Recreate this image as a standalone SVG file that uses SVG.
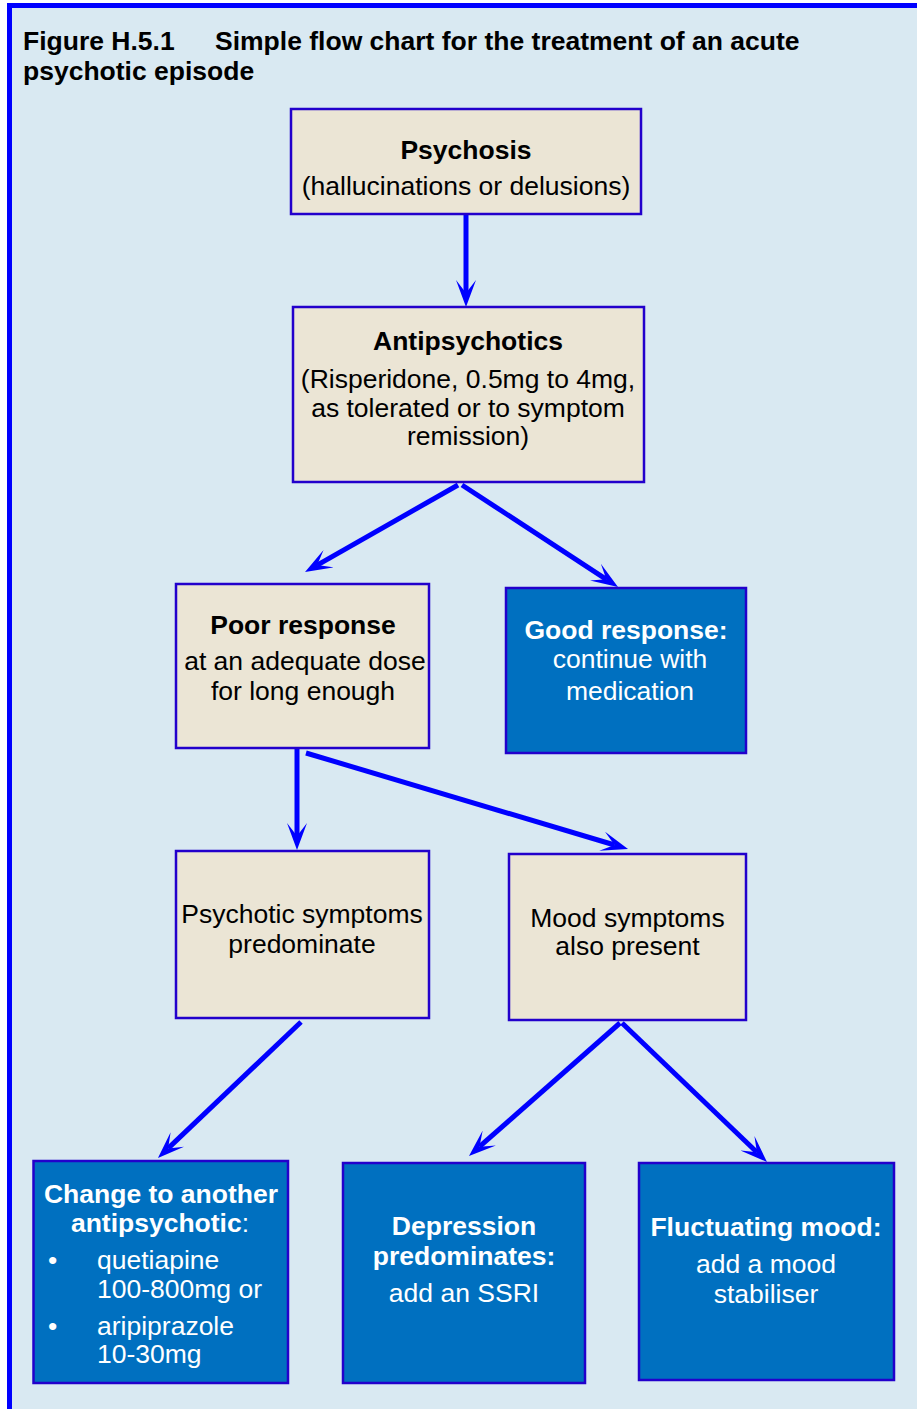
<svg xmlns="http://www.w3.org/2000/svg" width="917" height="1409" viewBox="0 0 917 1409">
<defs>
<marker id="ah" viewBox="0 0 28 20" refX="13" refY="10" markerWidth="28" markerHeight="20" markerUnits="userSpaceOnUse" orient="auto">
<path d="M27,10 L0,0 L13,10 L0,20 Z" fill="#0000ff"/>
</marker>
<style>
text{font-family:"Liberation Sans",Arial,sans-serif;font-size:26.5px}
.t{font-weight:bold;fill:#000}
.c{text-anchor:middle}
.b{font-weight:bold}
.k{fill:#000}
.w{fill:#fff}
.beige{fill:#ebe5d5;stroke:#2200cc;stroke-width:2.5}
.dark{fill:#0070c0;stroke:#2200cc;stroke-width:2.5}
.con line{stroke:#0000ff;stroke-width:5;marker-end:url(#ah)}
</style>
</defs>
<rect x="0" y="0" width="917" height="1409" fill="#ffffff"/>
<rect id="frame" x="9.5" y="5.5" width="1000" height="1500" fill="#d9e9f2" stroke="#0000ff" stroke-width="5"/>
<g id="title">
<text class="t" x="23" y="49.5">Figure H.5.1</text>
<text class="t" x="215" y="49.5">Simple flow chart for the treatment of an acute</text>
<text class="t" x="23" y="80">psychotic episode</text>
</g>
<g id="connectors" class="con">
<line x1="466" y1="214" x2="466" y2="293"/>
<line x1="458" y1="485" x2="317.2" y2="565.1"/>
<line x1="462" y1="485" x2="606.3" y2="579.3"/>
<line x1="297" y1="748" x2="297" y2="836"/>
<line x1="306" y1="753" x2="614.6" y2="845"/>
<line x1="301" y1="1022" x2="168.1" y2="1148.4"/>
<line x1="620" y1="1023" x2="479.5" y2="1146.7"/>
<line x1="622" y1="1023" x2="756.9" y2="1152.3"/>
</g>
<g id="psychosis">
<rect class="beige" x="291" y="109" width="350" height="105"/>
<text class="c k b" x="466" y="159">Psychosis</text>
<text class="c k" x="466" y="195">(hallucinations or delusions)</text>
</g>
<g id="antipsychotics">
<rect class="beige" x="293" y="307" width="351" height="175"/>
<text class="c k b" x="468" y="350">Antipsychotics</text>
<text class="c k" x="468" y="388">(Risperidone, 0.5mg to 4mg,</text>
<text class="c k" x="468" y="416.5">as tolerated or to symptom</text>
<text class="c k" x="468" y="445">remission)</text>
</g>
<g id="poor">
<rect class="beige" x="176" y="584" width="253" height="164"/>
<text class="c k b" x="303" y="634">Poor response</text>
<text class="c k" x="305" y="670">at an adequate dose</text>
<text class="c k" x="303" y="700">for long enough</text>
</g>
<g id="good">
<rect class="dark" x="506" y="588" width="240" height="165"/>
<text class="c w b" x="626" y="639">Good response:</text>
<text class="c w" x="630" y="668">continue with</text>
<text class="c w" x="630" y="700">medication</text>
</g>
<g id="psychotic">
<rect class="beige" x="176" y="851" width="253" height="167"/>
<text class="c k" x="302" y="923">Psychotic symptoms</text>
<text class="c k" x="302" y="953">predominate</text>
</g>
<g id="mood">
<rect class="beige" x="509" y="854" width="237" height="166"/>
<text class="c k" x="627.5" y="927">Mood symptoms</text>
<text class="c k" x="627.5" y="955">also present</text>
</g>
<g id="change">
<rect class="dark" x="33.5" y="1161" width="254.5" height="222"/>
<text class="c w b" x="161" y="1203">Change to another</text>
<text class="c w" x="160" y="1232"><tspan class="b">antipsychotic</tspan>:</text>
<text class="w" x="48" y="1269">•</text>
<text class="w" x="97" y="1269">quetiapine</text>
<text class="w" x="97" y="1298">100-800mg or</text>
<text class="w" x="48" y="1335">•</text>
<text class="w" x="97" y="1335">aripiprazole</text>
<text class="w" x="97" y="1363">10-30mg</text>
</g>
<g id="depression">
<rect class="dark" x="343" y="1163" width="242" height="220"/>
<text class="c w b" x="464" y="1235">Depression</text>
<text class="c w b" x="464" y="1265">predominates:</text>
<text class="c w" x="464" y="1302">add an SSRI</text>
</g>
<g id="fluctuating">
<rect class="dark" x="639" y="1163" width="255" height="217"/>
<text class="c w b" x="766" y="1236">Fluctuating mood:</text>
<text class="c w" x="766" y="1273">add a mood</text>
<text class="c w" x="766" y="1303">stabiliser</text>
</g>
</svg>
